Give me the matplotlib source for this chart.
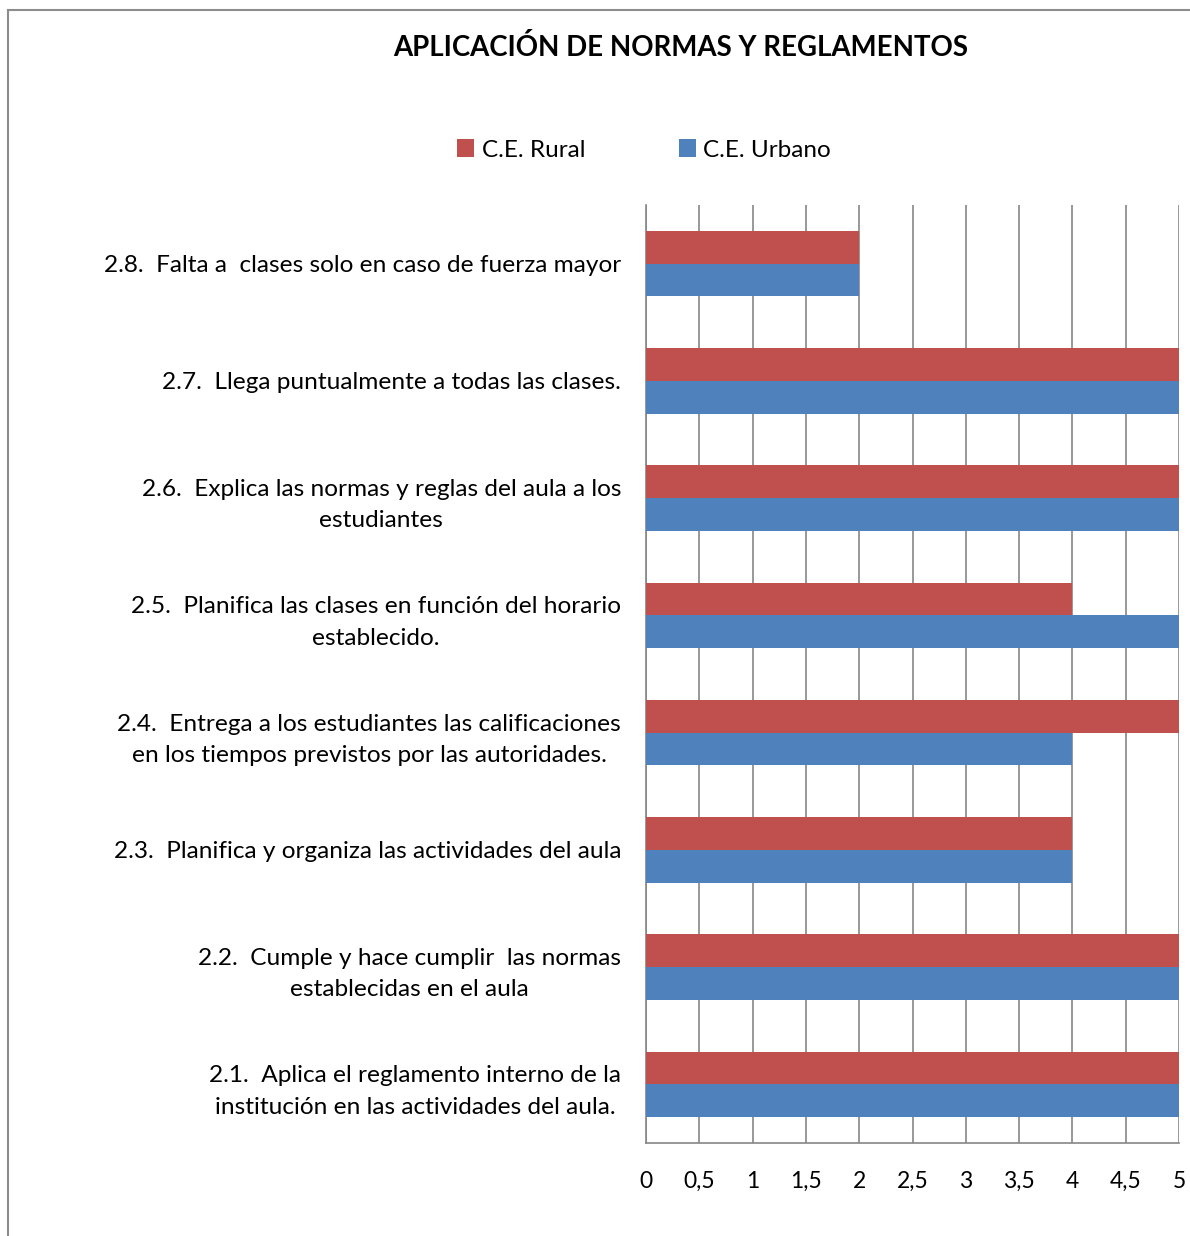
import matplotlib
matplotlib.use("Agg")
import matplotlib.pyplot as plt
from matplotlib.patches import Rectangle
import numpy as np

plt.rcParams['font.family'] = ['Lato', 'DejaVu Sans']

categories = [
    "2.1.  Aplica el reglamento interno de la\ninstitución en las actividades del aula.",
    "2.2.  Cumple y hace cumplir  las normas\nestablecidas en el aula",
    "2.3.  Planifica y organiza las actividades del aula",
    "2.4.  Entrega a los estudiantes las calificaciones\nen los tiempos previstos por las autoridades.",
    "2.5.  Planifica las clases en función del horario\nestablecido.",
    "2.6.  Explica las normas y reglas del aula a los\nestudiantes",
    "2.7.  Llega puntualmente a todas las clases.",
    "2.8.  Falta a  clases solo en caso de fuerza mayor",
]
rural = [5, 5, 4, 5, 4, 5, 5, 2]
urbano = [5, 5, 4, 4, 5, 5, 5, 2]
xticks = [0, 0.5, 1, 1.5, 2, 2.5, 3, 3.5, 4, 4.5, 5]
xticklabels = ["0", "0,5", "1", "1,5", "2", "2,5", "3", "3,5", "4", "4,5", "5"]

RED = "#C0504D"
BLUE = "#4F81BD"
GRID = "#868686"

fig = plt.figure(figsize=(11.9, 12.36), dpi=100)
fig.patches.append(Rectangle((8/1190, -0.1), 1.2, 1 - 10/1236 + 0.1,
                             transform=fig.transFigure, fill=False,
                             edgecolor="#8C8C8C", linewidth=1.5))

ax = fig.add_axes([646/1190, 1 - 1143/1236, (1179 - 646)/1190, (1143 - 205)/1236])
y = np.arange(len(categories))
h = 0.28
ax.barh(y + h/2, rural, height=h, color=RED, label="C.E. Rural", zorder=3)
ax.barh(y - h/2, urbano, height=h, color=BLUE, label="C.E. Urbano", zorder=3)

ax.set_xlim(0, 5)
ax.set_ylim(-0.5, len(categories) - 0.5)
ax.set_xticks(xticks)
ax.set_xticklabels(xticklabels, fontsize=16.5)
ax.set_yticks(y)
ax.set_yticklabels(categories, fontsize=17.6, multialignment="center", linespacing=1.6)
ax.tick_params(axis='both', length=0)
ax.tick_params(axis='y', pad=18)
ax.tick_params(axis='x', pad=20)
ax.xaxis.grid(True, color=GRID, linewidth=1.2, zorder=0)
ax.set_axisbelow(True)
for s in ["top", "right"]:
    ax.spines[s].set_visible(False)
for s in ["left", "bottom"]:
    ax.spines[s].set_color(GRID)
    ax.spines[s].set_linewidth(1.2)

fig.text(681/1190, 1 - 48/1236, "APLICACIÓN DE NORMAS Y REGLAMENTOS",
         ha="center", va="center", fontsize=19.9, fontweight="bold")

handles, labels = ax.get_legend_handles_labels()
fig.legend(handles, labels, loc="center", bbox_to_anchor=(644/1190, 1 - 150/1236),
           ncol=2, frameon=False, fontsize=17.5, handlelength=0.7, handleheight=0.7,
           handletextpad=0.3, columnspacing=3.85)

fig.savefig("out.png", dpi=100)
